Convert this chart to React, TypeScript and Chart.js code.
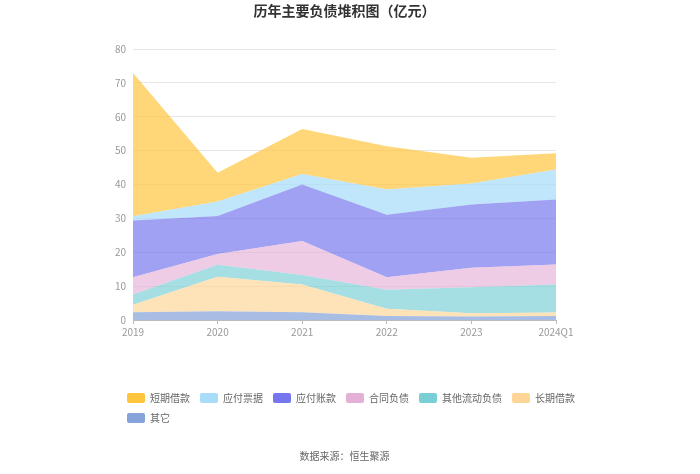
import React, { useEffect, useRef } from "react";
import { Chart, registerables } from "chart.js";

Chart.register(...registerables);

const categories = ["2019", "2020", "2021", "2022", "2023", "2024Q1"];

// stacked from bottom to top
const qitaValues = [2.3, 2.6, 2.3, 1.2, 1.0, 1.2];
const changqiJiekuanValues = [2.2, 10.2, 8.2, 2.1, 1.0, 1.0];
const qitaLiudongValues = [3.0, 3.5, 2.8, 5.6, 7.7, 8.3];
const hetongFuzhaiValues = [5.1, 3.2, 10.0, 3.7, 5.7, 5.9];
const yingfuZhangkuanValues = [16.8, 11.2, 16.7, 18.5, 18.7, 19.2];
const yingfuPiaojuValues = [1.2, 4.3, 3.1, 7.4, 6.2, 8.8];
const duanqiJiekuanValues = [42.3, 8.5, 13.3, 12.8, 7.6, 4.8];

const seriesNames = ["其它", "长期借款", "其他流动负债", "合同负债", "应付账款", "应付票据", "短期借款"];
const seriesValues = [
  qitaValues,
  changqiJiekuanValues,
  qitaLiudongValues,
  hetongFuzhaiValues,
  yingfuZhangkuanValues,
  yingfuPiaojuValues,
  duanqiJiekuanValues,
];
const legendColors = ["#86A4DA", "#FFD597", "#7ACFD6", "#E5B0D8", "#7575EE", "#A8DCF9", "#FFC53F"];
const fillColors = [
  "rgba(134,164,218,0.72)",
  "rgba(255,213,151,0.68)",
  "rgba(122,207,214,0.68)",
  "rgba(229,176,216,0.65)",
  "rgba(117,117,238,0.68)",
  "rgba(168,220,249,0.72)",
  "rgba(255,197,63,0.70)",
];

const yTickValues = [0, 10, 20, 30, 40, 50, 60, 70, 80];

const FONT = '"Noto Sans CJK SC", "Noto Sans", sans-serif';

export default function App() {
  const ref = useRef<HTMLCanvasElement | null>(null);

  useEffect(() => {
    if (!ref.current) return;
    const chart = new Chart(ref.current, {
      type: "line",
      data: {
        labels: categories,
        datasets: seriesNames.map((name, i) => ({
          label: name,
          data: seriesValues[i],
          backgroundColor: fillColors[i],
          borderColor: "rgba(0,0,0,0)",
          borderWidth: 0,
          pointRadius: 0,
          pointHoverRadius: 0,
          tension: 0,
          fill: i === 0 ? "origin" : "-1",
        })),
      },
      options: {
        responsive: false,
        animation: false,
        layout: { padding: { left: 117, right: 90, top: 0, bottom: 0 } },
        font: { family: FONT },
        scales: {
          x: {
            type: "category",
            offset: false,
            grid: {
              display: true,
              drawOnChartArea: false,
              drawTicks: true,
              tickLength: 4,
              color: "#bbbbbb",
            },
            border: { display: true, color: "#bbbbbb" },
            ticks: {
              autoSkip: false,
              maxRotation: 0,
              padding: 2,
              color: "#999999",
              font: { family: FONT, size: 10 },
            },
            afterFit: (s: any) => {
              s.height = 63;
            },
          },
          y: {
            stacked: true,
            min: 0,
            max: 80,
            afterBuildTicks: (s: any) => {
              s.ticks = yTickValues.map((v) => ({ value: v }));
            },
            grid: { color: "#e6e6e6", drawTicks: false },
            border: { display: false },
            ticks: {
              padding: 7,
              color: "#999999",
              font: { family: FONT, size: 10 },
            },
            afterFit: (s: any) => {
              s.width = 16;
              // do not clip tick labels to the narrow axis box
              s._computeLabelArea = () => undefined;
            },
          },
          yR: {
            position: "right",
            display: true,
            grid: { display: false },
            border: { display: false },
            ticks: { display: false },
            afterFit: (s: any) => {
              s.width = 54;
            },
          },
        },
        plugins: {
          tooltip: { enabled: false },
          title: {
            display: true,
            text: "历年主要负债堆积图（亿元）",
            fullSize: false,
            color: "#333333",
            font: { family: FONT, size: 14, weight: "bold", lineHeight: 1.2 },
            padding: { top: 2.6, bottom: 29.6 },
          },
          subtitle: {
            display: true,
            position: "bottom",
            fullSize: false,
            text: "数据来源：恒生聚源",
            color: "#666666",
            font: { family: FONT, size: 10, lineHeight: 1.2 },
            padding: { top: 17, bottom: 12 },
          },
          legend: {
            display: true,
            position: "bottom",
            align: "start",
            reverse: true,
            labels: {
              boxWidth: 18,
              boxHeight: 10,
              padding: 10,
              color: "#666666",
              font: { family: FONT, size: 10 },
              generateLabels: (c: any) => {
                const items = (Chart.defaults.plugins.legend.labels as any).generateLabels(c);
                return items.map((it: any) => ({
                  ...it,
                  fillStyle: legendColors[it.datasetIndex],
                  strokeStyle: "rgba(0,0,0,0)",
                  lineWidth: 0,
                  borderRadius: 2,
                }));
              },
            },
          },
        },
      } as any,
    });
    return () => chart.destroy();
  }, []);

  return (
    <div style={{ position: "absolute", left: 0, top: 0, width: 700, height: 474, background: "#fff" }}>
      <canvas ref={ref} width={700} height={474} style={{ display: "block" }} />
    </div>
  );
}
